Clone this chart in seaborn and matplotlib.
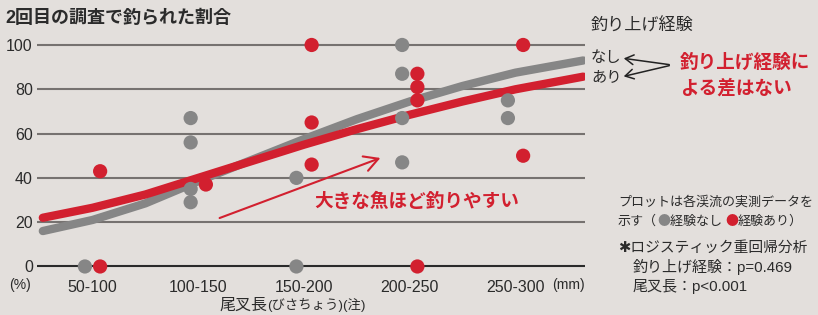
import numpy as np
import pandas as pd
import matplotlib
matplotlib.use("Agg")
import matplotlib.pyplot as plt
import seaborn as sns

# size classes (fork length, mm)
sizes = ["50-100", "100-150", "150-200", "200-250", "250-300"]

# plotted stream data: % caught again in the 2nd survey
none_size = ["50-100",
             "100-150", "100-150", "100-150", "100-150",
             "150-200", "150-200",
             "200-250", "200-250", "200-250", "200-250",
             "250-300", "250-300"]
none_pct = [0, 67, 56, 35, 29, 40, 0, 100, 87, 67, 47, 75, 67]

exp_size = ["50-100", "50-100",
            "100-150",
            "150-200", "150-200", "150-200",
            "200-250", "200-250", "200-250", "200-250",
            "250-300", "250-300"]
exp_pct = [43, 0, 37, 100, 65, 46, 87, 81, 75, 0, 100, 50]

# logistic fit curves (x in size-class units)
curve_x = [-0.47, 0, 0.5, 1, 1.5, 2, 2.5, 3, 3.5, 4, 4.64]
curve_none = [16, 21, 28.5, 38.5, 48, 57.5, 66.5, 74.5, 81.5, 87.5, 93]
curve_exp = [22, 26.5, 32.5, 40, 47.5, 55, 62, 68.5, 74.5, 80, 85.7]

BG = "#e3dfdc"
GREY = "#868686"
RED = "#d2202f"
TXT = "#2b2b2b"
JP = ['Noto Sans CJK JP', 'DejaVu Sans']

sns.set_style("white")
plt.rcParams['font.family'] = ['Liberation Sans', 'Noto Sans CJK JP', 'DejaVu Sans']

W, H = 818, 315
fig = plt.figure(figsize=(W / 100, H / 100), dpi=100, facecolor=BG)

def px(x, y):
    return x / W, 1 - y / H

# axes placement: x from 37px to 585px, y=0 at 266.5px, y=100 at 45px
ax = fig.add_axes([37 / W, 1 - 276 / H, 548 / W, 242.1 / H])
ax.set_facecolor(BG)
ax.set_xlim(-0.525, 4.657)
ax.set_ylim(-4.3, 105)
for s in ax.spines.values():
    s.set_visible(False)

ax.set_yticks([0, 20, 40, 60, 80, 100])
ax.tick_params(axis='y', length=0, pad=3, labelsize=11.5, labelcolor=TXT)
ax.set_xticks(range(len(sizes)))
ax.set_xticklabels(sizes)
ax.tick_params(axis='x', length=0, pad=3, labelsize=11.5, labelcolor=TXT)
for t in [20, 40, 60, 80, 100]:
    ax.axhline(t, color="#767270", lw=1.5, zorder=1)
ax.axhline(0, color="#2a2a2a", lw=1.5, zorder=1)

# curves
curves = pd.DataFrame({"x": curve_x * 2,
                       "pct": curve_none + curve_exp,
                       "group": ["なし"] * len(curve_x) + ["あり"] * len(curve_x)})
sns.lineplot(data=curves, x="x", y="pct", hue="group",
             palette={"なし": GREY, "あり": RED}, linewidth=6,
             estimator=None, sort=False, legend=False, ax=ax, zorder=3,
             solid_capstyle='round', solid_joinstyle='round')

# points
pts = pd.DataFrame({"size": none_size + exp_size,
                    "pct": none_pct + exp_pct,
                    "group": ["なし"] * len(none_size) + ["あり"] * len(exp_size)})
pos = {s: i for i, s in enumerate(sizes)}
pts["x"] = pts["size"].map(pos) + np.where(pts["group"] == "なし", -0.072, 0.072)
sns.scatterplot(data=pts, x="x", y="pct", hue="group",
                palette={"なし": GREY, "あり": RED}, s=105, edgecolor="none",
                legend=False, ax=ax, zorder=4, clip_on=False)
ax.set_xlabel("")
ax.set_ylabel("")

# title
fig.text(*px(5, 18), "2回目の調査で釣られた割合", fontsize=13, fontweight='bold',
         color=TXT, va='center', ha='left')

# unit labels
fig.text(*px(20, 285), "(%)", fontsize=10, color=TXT, ha='center', va='center')
fig.text(*px(568, 285), "(mm)", fontsize=10, color=TXT, ha='center', va='center')
t1 = fig.text(*px(219, 305), "尾叉長", fontsize=11.5, color=TXT, ha='left', va='center')
fig.canvas.draw()
ax.annotate("(びさちょう)(注)", xy=(1, 0.5), xycoords=t1, va='center', ha='left',
            fontsize=9.6, color=TXT, annotation_clip=False)

# legend-like labels on the right
fig.text(*px(591, 25), "釣り上げ経験", fontsize=12.3, color=TXT, va='center')
fig.text(*px(591, 58), "なし", fontsize=11, color=TXT, va='center')
fig.text(*px(591, 77), "あり", fontsize=11, color=TXT, va='center')
for ty in (58, 77):
    fig.add_artist(matplotlib.patches.FancyArrowPatch(
        px(672, 65), px(621, ty), transform=fig.transFigure,
        arrowstyle='->,head_length=6,head_width=3.5', color="#222222", lw=1.1))
fig.text(*px(680, 63), "釣り上げ経験に", fontsize=13.4, fontweight='bold',
         color=RED, va='center')
fig.text(*px(680, 88), "よる差はない", fontsize=13.4, fontweight='bold',
         color=RED, va='center')

# trend annotation
fig.add_artist(matplotlib.patches.FancyArrowPatch(
    px(217, 219), px(383, 157), transform=fig.transFigure,
    arrowstyle='->,head_length=10,head_width=5.5', color=RED, lw=1.5))
fig.text(*px(314, 202), "大きな魚ほど釣りやすい", fontsize=13.4, fontweight='bold',
         color=RED, va='center')

# notes
fig.text(*px(618, 202), "プロットは各渓流の実測データを", fontsize=9.4, color=TXT, va='center')
n1 = fig.text(*px(618, 221), "示す（", fontsize=9.4, color=TXT, va='center', family=JP)
fig.canvas.draw()
prev = n1
for s, c in [("●", GREY), ("経験なし ", TXT), ("●", RED), ("経験あり）", TXT)]:
    prev = ax.annotate(s, xy=(1, 0.5), xycoords=prev, va='center', ha='left',
                       fontsize=9.4, color=c, annotation_clip=False, family=JP)
    fig.canvas.draw()
fig.text(*px(618, 248), "✱ロジスティック重回帰分析", fontsize=10.6, color=TXT, va='center')
fig.text(*px(633, 267), "釣り上げ経験：p=0.469", fontsize=10.8, color=TXT, va='center')
fig.text(*px(633, 287), "尾叉長：p<0.001", fontsize=10.8, color=TXT, va='center')

fig.savefig("out.png", dpi=100, facecolor=BG)
